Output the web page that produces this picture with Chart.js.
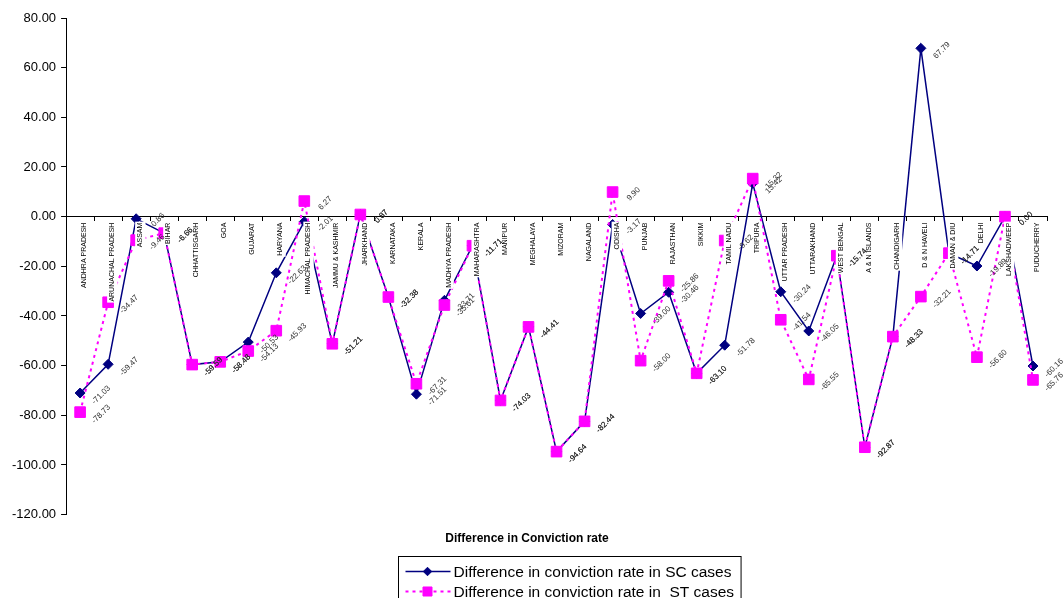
<!DOCTYPE html>
<html>
<head>
<meta charset="utf-8">
<title>Difference in Conviction rate</title>
<script src="https://cdn.jsdelivr.net/npm/chart.js@4.4.1/dist/chart.umd.min.js"></script>
<style>
  body { margin: 0; background: #fff; }
  #wrap { width: 1063px; height: 598px; position: relative; }
</style>
</head>
<body>
<div id="wrap"><canvas id="chart"></canvas></div>
<script>
// States / UTs along the category axis
const states = [
    'ANDHRA PRADESH', 'ARUNACHAL PRADESH', 'ASSAM', 'BIHAR', 'CHHATTISGARH', 'GOA',
    'GUJARAT', 'HARYANA', 'HIMACHAL PRADESH', 'JAMMU & KASHMIR', 'JHARKHAND', 'KARNATAKA',
    'KERALA', 'MADHYA PRADESH', 'MAHARASHTRA', 'MANIPUR', 'MEGHALAYA', 'MIZORAM',
    'NAGALAND', 'ODISHA', 'PUNJAB', 'RAJASTHAN', 'SIKKIM', 'TAMIL NADU', 'TRIPURA',
    'UTTAR PRADESH', 'UTTARAKHAND', 'WEST BENGAL', 'A & N ISLANDS', 'CHANDIGARH',
    'D & N HAVELI', 'DAMAN & DIU', 'DELHI', 'LAKSHADWEEP', 'PUDUCHERRY'
];

// Difference in conviction rate, SC cases
const scValues = [
    -71.03, -59.47, -0.86, -6.66, -59.59, -58.48,
    -50.53, -22.63, -2.01, -51.21, 0.87, -32.38,
    -71.51, -33.71, -11.71, -74.03, -44.41, -94.64,
    -82.44, -3.17, -39.00, -30.46, -63.10, -51.78, 13.42,
    -30.24, -46.05, -15.74, -92.87, -48.33,
    67.79, -14.71, -19.89, 0.00, -60.16
];

// Difference in conviction rate, ST cases
const stValues = [
    -78.73, -34.47, -9.46, -6.66, -59.59, -58.48,
    -54.13, -45.93, 6.27, -51.21, 0.87, -32.38,
    -67.31, -35.61, -11.71, -74.03, -44.41, -94.64,
    -82.44, 9.90, -58.00, -25.86, -63.10, -9.62, 15.32,
    -41.54, -65.55, -15.74, -92.87, -48.33,
    -32.21, -14.71, -56.60, 0.00, -65.76
];

// Value axis range
const yMin = -120;
const yMax = 80;
const yStep = 20;

const FONT = '"Liberation Sans", Arial, sans-serif';

// Rotated value labels next to every point
const valueLabels = {
    id: 'valueLabels',
    afterDraw(chart) {
        const ctx = chart.ctx;
        ctx.save();
        ctx.font = '8px ' + FONT;
        ctx.fillStyle = '#333';
        ctx.textAlign = 'center';
        ctx.textBaseline = 'middle';
        chart.data.datasets.forEach((ds, i) => {
            chart.getDatasetMeta(i).data.forEach((pt, j) => {
                ctx.save();
                ctx.translate(pt.x + 21, pt.y + 2);
                ctx.rotate(-Math.PI / 4);
                ctx.fillText(ds.data[j].toFixed(2), 0, 0);
                ctx.restore();
            });
        });
        ctx.restore();
    }
};

// Boxed legend with line + marker samples, one row per series
const boxLegend = {
    id: 'boxLegend',
    afterDraw(chart) {
        const ctx = chart.ctx;
        const area = chart.chartArea;
        const items = chart.data.datasets;
        ctx.save();
        ctx.font = '15.5px ' + FONT;
        const textW = Math.max(...items.map(ds => ctx.measureText(ds.label).width));
        const boxW = 55 + textW + 7;
        const left = Math.round((area.left + area.right) / 2 + 13 - boxW / 2) + 0.5;
        const top = Math.round(area.bottom + 41) + 0.5;

        ctx.strokeStyle = '#000';
        ctx.lineWidth = 1;
        ctx.strokeRect(left, top, boxW, 50);

        items.forEach((ds, i) => {
            const y = top + 15 + i * 20;
            ctx.save();
            ctx.strokeStyle = ds.borderColor;
            ctx.lineWidth = ds.borderWidth;
            ctx.setLineDash(ds.borderDash || []);
            ctx.beginPath();
            ctx.moveTo(left + 7, y);
            ctx.lineTo(left + 52, y);
            ctx.stroke();
            ctx.restore();

            ctx.fillStyle = ds.backgroundColor;
            ctx.strokeStyle = ds.borderColor;
            Chart.helpers.drawPoint(ctx, {
                pointStyle: ds.pointStyle,
                radius: ds.pointRadius * 0.85,
                borderWidth: 1,
                rotation: 0
            }, left + 29, y);

            ctx.fillStyle = '#000';
            ctx.textAlign = 'left';
            ctx.textBaseline = 'middle';
            ctx.fillText(ds.label, left + 55, y + 1);
        });
        ctx.restore();
    }
};

const ctx = document.getElementById('chart').getContext('2d');
new Chart(ctx, {
    type: 'line',
    data: {
        labels: states,
        datasets: [{
            label: 'Difference in conviction rate in SC cases',
            data: scValues,
            borderColor: '#000080',
            backgroundColor: '#000080',
            borderWidth: 1.5,
            pointStyle: 'rectRot',
            pointRadius: 5,
            pointBorderWidth: 1,
            tension: 0,
            order: 1
        }, {
            label: 'Difference in conviction rate in  ST cases',
            data: stValues,
            borderColor: '#ff00ff',
            backgroundColor: '#ff00ff',
            borderWidth: 2,
            borderDash: [3, 4],
            pointStyle: 'rect',
            pointRadius: 7.5,
            pointBorderWidth: 1,
            tension: 0,
            order: 0
        }]
    },
    options: {
        responsive: true,
        maintainAspectRatio: false,
        animation: false,
        layout: {
            padding: { left: 7, right: 16, top: 18, bottom: 52 }
        },
        plugins: {
            legend: { display: false },
            tooltip: { enabled: false },
            title: {
                display: true,
                position: 'bottom',
                text: 'Difference in Conviction rate',
                color: '#000',
                font: { family: FONT, size: 12, weight: 'bold' },
                padding: { top: 17, bottom: 0 }
            }
        },
        scales: {
            x: {
                type: 'category',
                position: { y: 0 },
                offset: true,
                grid: {
                    offset: true,
                    drawOnChartArea: false,
                    tickLength: 4,
                    color: '#000'
                },
                border: { color: '#000', width: 1 },
                ticks: {
                    autoSkip: false,
                    minRotation: 90,
                    maxRotation: 90,
                    padding: 2,
                    color: '#000',
                    font: { family: FONT, size: 7 },
                    showLabelBackdrop: true,
                    backdropColor: '#fff',
                    backdropPadding: 1,
                    z: 1
                }
            },
            y: {
                min: yMin,
                max: yMax,
                grid: {
                    drawOnChartArea: false,
                    tickLength: 5,
                    color: '#000'
                },
                border: { color: '#000', width: 1 },
                ticks: {
                    stepSize: yStep,
                    padding: 5,
                    color: '#000',
                    font: { family: FONT, size: 13 },
                    callback: v => v.toFixed(2)
                }
            }
        }
    },
    plugins: [valueLabels, boxLegend]
});
</script>
</body>
</html>
